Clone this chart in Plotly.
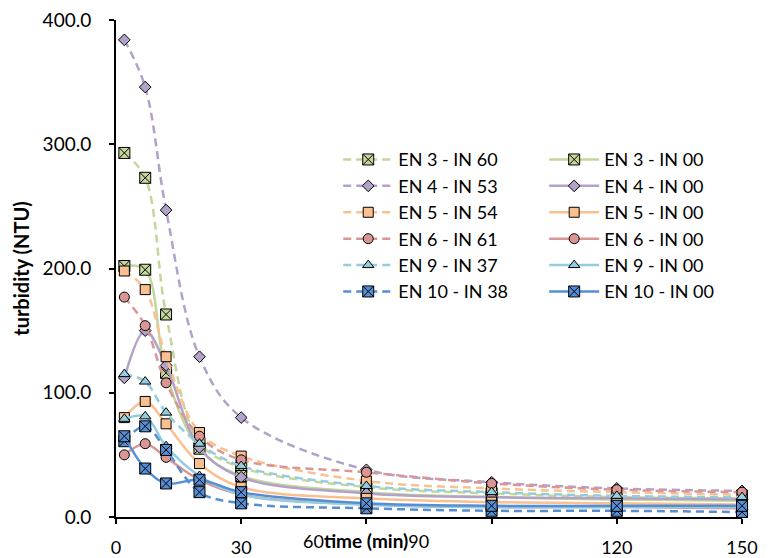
import plotly.graph_objects as go

time_min = [2, 7, 12, 20, 30, 60, 90, 120, 150]

en3_in60 = [293, 273, 163, 60, 40, 24, 19, 16, 15]
en3_in00 = [202, 199, 116, 55, 33, 20, 16, 14, 13]
en4_in53 = [384, 346, 247, 129, 80, 38, 28, 23, 21]
en4_in00 = [112, 150, 122, 56, 32, 19, 16, 15, 14]
en5_in54 = [198, 183, 129, 68, 49, 29, 23, 20, 18]
en5_in00 = [80, 93, 75, 43, 24, 15, 12, 11, 10]
en6_in61 = [177, 154, 108, 65, 46, 36, 27, 22, 20]
en6_in00 = [50, 59, 48, 30, 18, 10, 8, 8, 7]
en9_in37 = [115, 109, 84, 59, 41, 25, 20, 17, 16]
en9_in00 = [79, 81, 57, 33, 18, 10, 8, 8, 8]
en10_in38 = [61, 73, 54, 20, 11, 7, 5, 5, 4]
en10_in00 = [65, 39, 27, 30, 20, 11, 9, 9, 9]

x_ticks = [0, 30, 60, 90, 120, 150]
x_tick_text = ["0", "30", "", "", "120", "150"]
y_ticks = [0, 100, 200, 300, 400]

series = [
    ("EN 3 - IN 60", en3_in60, "#c3d69b", "square-x", 11, "dash", "legend"),
    ("EN 3 - IN 00", en3_in00, "#c3d69b", "square-x", 11, "solid", "legend2"),
    ("EN 4 - IN 53", en4_in53, "#b3a2c7", "diamond", 9, "dash", "legend"),
    ("EN 4 - IN 00", en4_in00, "#b3a2c7", "diamond", 9, "solid", "legend2"),
    ("EN 5 - IN 54", en5_in54, "#fac090", "square", 10, "dash", "legend"),
    ("EN 5 - IN 00", en5_in00, "#fac090", "square", 10, "solid", "legend2"),
    ("EN 6 - IN 61", en6_in61, "#d99694", "circle", 10, "dash", "legend"),
    ("EN 6 - IN 00", en6_in00, "#d99694", "circle", 10, "solid", "legend2"),
    ("EN 9 - IN 37", en9_in37, "#93cddd", "triangle-up", 10, "dash", "legend"),
    ("EN 9 - IN 00", en9_in00, "#93cddd", "triangle-up", 10, "solid", "legend2"),
    ("EN 10 - IN 38", en10_in38, "#558ed5", "square-x", 11, "dash", "legend"),
    ("EN 10 - IN 00", en10_in00, "#558ed5", "square-x", 11, "solid", "legend2"),
]

fig = go.Figure()
for name, vals, color, sym, size, dash, leg in series:
    fig.add_trace(go.Scatter(
        x=time_min, y=vals, name=name, mode="lines+markers",
        line=dict(color=color, width=2.5,
                  dash="8px,5px" if dash == "dash" else "solid",
                  shape="spline", smoothing=1),
        marker=dict(symbol=sym, size=size, color=color,
                    line=dict(color="black", width=1)),
        legend=leg, cliponaxis=False,
    ))

font_family = "Lato, 'Open Sans', sans-serif"

fig.update_layout(
    width=771, height=558,
    margin=dict(l=116, r=29, t=20, b=41),
    plot_bgcolor="white", paper_bgcolor="white",
    font=dict(family=font_family, size=18, color="black"),
    xaxis=dict(range=[0, 150], tickvals=x_ticks, ticktext=x_tick_text,
               showgrid=False, zeroline=False, showline=True, linecolor="black",
               linewidth=2, ticks="outside", ticklen=5, tickwidth=2,
               tickcolor="black", tickfont=dict(size=18),
               ticklabelstandoff=8, automargin=False),
    yaxis=dict(range=[0, 400], tickvals=y_ticks, tickformat=".1f",
               showgrid=False, zeroline=False, showline=True, linecolor="black",
               linewidth=2, ticks="outside", ticklen=5, tickwidth=2,
               tickcolor="black", tickfont=dict(size=19),
               ticklabelstandoff=14, automargin=False,
               title=dict(text="<b>turbidity (NTU)</b>", font=dict(size=20),
                          standoff=8)),
    legend=dict(x=0.355, y=0.756, xanchor="left", yanchor="top",
                bgcolor="rgba(0,0,0,0)", font=dict(size=18), itemwidth=50,
                tracegroupgap=0),
    legend2=dict(x=0.684, y=0.756, xanchor="left", yanchor="top",
                 bgcolor="rgba(0,0,0,0)", font=dict(size=18), itemwidth=50,
                 tracegroupgap=0),
    showlegend=True,
)

fig.add_annotation(x=60, y=0, xref="x", yref="paper", yanchor="top",
                   yshift=-10, showarrow=False,
                   text="60<span style='font-size:19px'><b>time (min)</b></span>90",
                   font=dict(size=18))

fig.write_html("out.html", config={"displayModeBar": False},
               post_script="document.body.style.margin='0';document.body.style.padding='0';")
